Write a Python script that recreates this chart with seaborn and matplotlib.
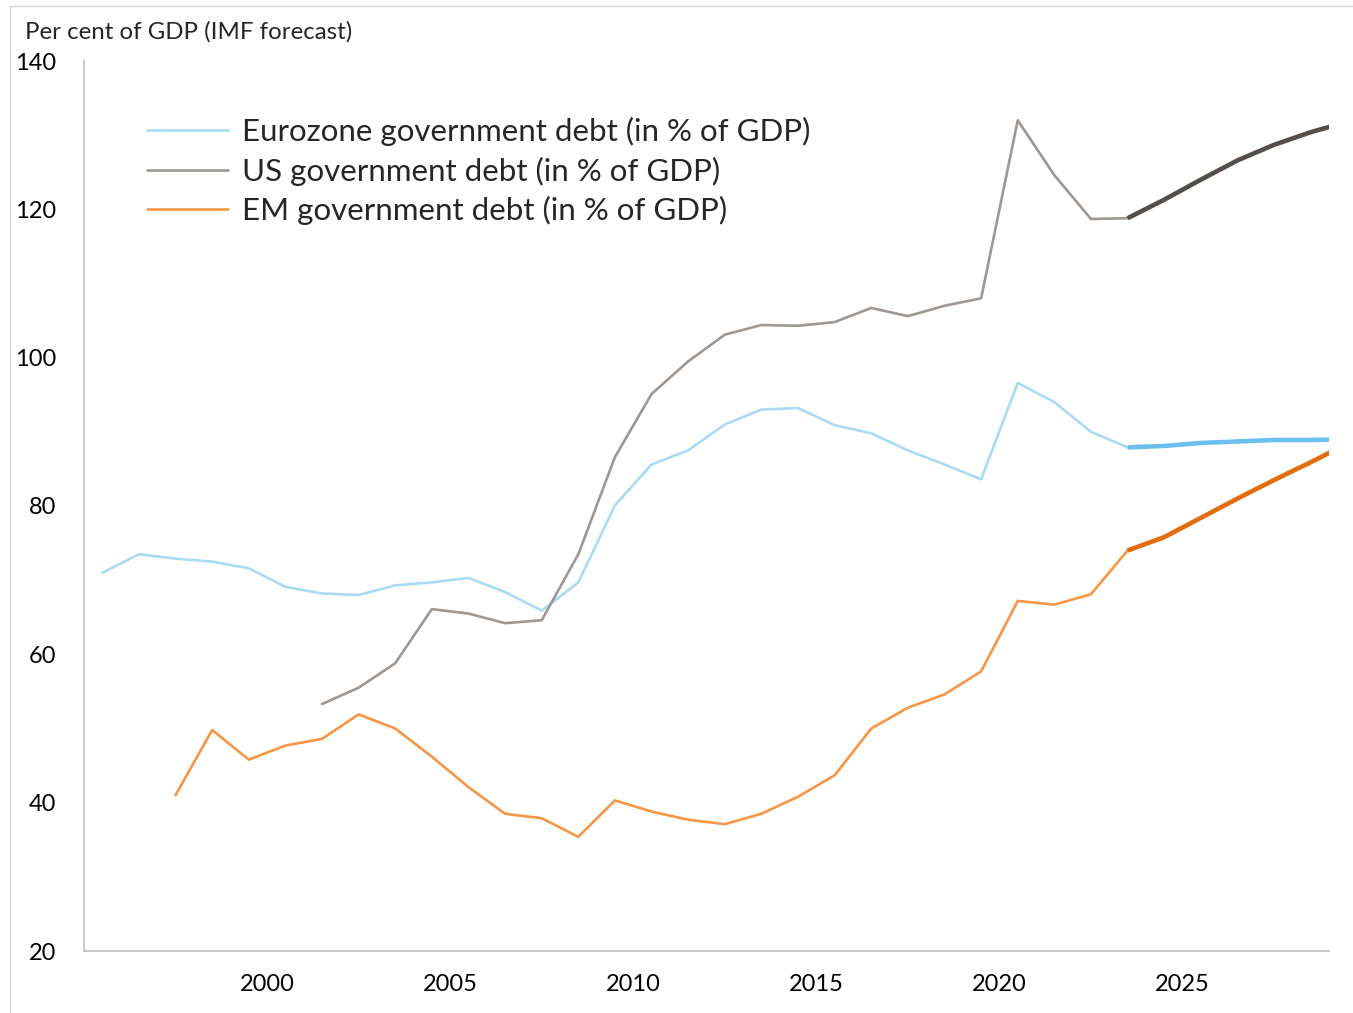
import numpy as np
import pandas as pd
import matplotlib
matplotlib.use("Agg")
import matplotlib.pyplot as plt
import seaborn as sns
from matplotlib.ticker import FixedLocator, MultipleLocator
from matplotlib.lines import Line2D

# ---------------- data ----------------
ez_years = list(range(1995, 2024))
ez_values = [71.0, 73.5, 72.9, 72.5, 71.6, 69.1, 68.2, 68.0, 69.3, 69.7,
             70.3, 68.4, 65.9, 69.7, 80.1, 85.6, 87.5, 91.0, 93.0, 93.2,
             90.9, 89.8, 87.5, 85.6, 83.6, 96.6, 94.0, 90.0, 87.9]

us_years = list(range(2001, 2024))
us_values = [53.3, 55.5, 58.8, 66.1, 65.5, 64.2, 64.6, 73.5, 86.6, 95.1,
             99.5, 103.1, 104.4, 104.3, 104.8, 106.7, 105.6, 107.0, 108.0,
             132.0, 124.6, 118.7, 118.8]

em_years = list(range(1997, 2024))
em_values = [41.0, 49.8, 45.8, 47.7, 48.6, 51.9, 50.0, 46.2, 42.1, 38.5,
             37.9, 35.4, 40.3, 38.8, 37.7, 37.1, 38.5, 40.8, 43.7, 50.0,
             52.8, 54.6, 57.7, 67.2, 66.7, 68.1, 74.0]

fc_years = list(range(2023, 2030))
ez_forecast = [87.9, 88.1, 88.5, 88.7, 88.9, 88.9, 89.0]
us_forecast = [118.8, 121.3, 124.0, 126.6, 128.7, 130.4, 131.8]
em_forecast = [74.0, 75.8, 78.4, 81.0, 83.5, 85.9, 88.4]

series_labels = ["Eurozone government debt (in % of GDP)",
                 "US government debt (in % of GDP)",
                 "EM government debt (in % of GDP)"]
x_tick_years = [2000, 2005, 2010, 2015, 2020, 2025]
y_tick_values = [20, 40, 60, 80, 100, 120, 140]
title_text = "Per cent of GDP (IMF forecast)"

# ---------------- style ----------------
sns.set_style("white")
plt.rcParams["font.family"] = ["Lato", "DejaVu Sans"]

hist_colors = ["#A9DBF5", "#9F9792", "#F79646"]
fc_colors = ["#6CC0EF", "#544D4A", "#E46C0A"]
axis_grey = "#BFBFBF"

W, H = 1353, 1013
fig = plt.figure(figsize=(W / 100, H / 100), dpi=100)
ax = fig.add_axes([84 / W, 1 - 951 / H, (1329 - 84) / W, (951 - 61) / H])


def frame(years, values):
    # data for each year is drawn at mid-year
    return pd.DataFrame({"year": np.array(years, dtype=float) + 0.5,
                         "value": values})


hist = [(ez_years, ez_values), (us_years, us_values), (em_years, em_values)]
fcs = [ez_forecast, us_forecast, em_forecast]

for (yrs, vals), col in zip(hist, hist_colors):
    sns.lineplot(data=frame(yrs, vals), x="year", y="value", ax=ax,
                 color=col, linewidth=1.9, legend=False)
for vals, col in zip(fcs, fc_colors):
    sns.lineplot(data=frame(fc_years, vals), x="year", y="value", ax=ax,
                 color=col, linewidth=3.3, legend=False,
                 solid_capstyle="butt")

ax.set_xlim(1995, 2029)
ax.set_ylim(20, 140)
ax.set_xlabel("")
ax.set_ylabel("")

ax.xaxis.set_major_locator(FixedLocator(x_tick_years))
ax.xaxis.set_minor_locator(MultipleLocator(1))
ax.yaxis.set_major_locator(FixedLocator(y_tick_values))
ax.yaxis.set_minor_locator(MultipleLocator(4))

for s in ["top", "right"]:
    ax.spines[s].set_visible(False)
for s in ["left", "bottom"]:
    ax.spines[s].set_color(axis_grey)
    ax.spines[s].set_linewidth(1.2)

ax.tick_params(axis="both", which="major", direction="out", length=6,
               width=1.0, color=axis_grey, labelsize=17, labelcolor="black")
ax.tick_params(axis="both", which="minor", direction="out", length=3,
               width=1.0, color=axis_grey)
ax.tick_params(axis="x", which="major", pad=10.5)
ax.tick_params(axis="y", which="major", pad=14)
ax.grid(False)

handles = [Line2D([0], [0], color=c, linewidth=1.9) for c in hist_colors]
ax.legend(handles, series_labels, loc="center left",
          bbox_to_anchor=(147 / W, 1 - 171 / H), bbox_transform=fig.transFigure,
          frameon=False, fontsize=22.5, handlelength=2.6, handletextpad=0.45,
          labelspacing=0.34, borderpad=0, borderaxespad=0)

fig.text(25 / W, 1 - 32 / H, title_text, fontsize=17.3, ha="left", va="center")

# outer chart frame (partially visible)
fig.add_artist(Line2D([10 / W, 1], [1 - 6 / H, 1 - 6 / H],
                      transform=fig.transFigure, color="#D9D9D9", linewidth=1))
fig.add_artist(Line2D([10 / W, 10 / W], [0, 1 - 6 / H],
                      transform=fig.transFigure, color="#D9D9D9", linewidth=1))

fig.savefig("out.png", dpi=100)
